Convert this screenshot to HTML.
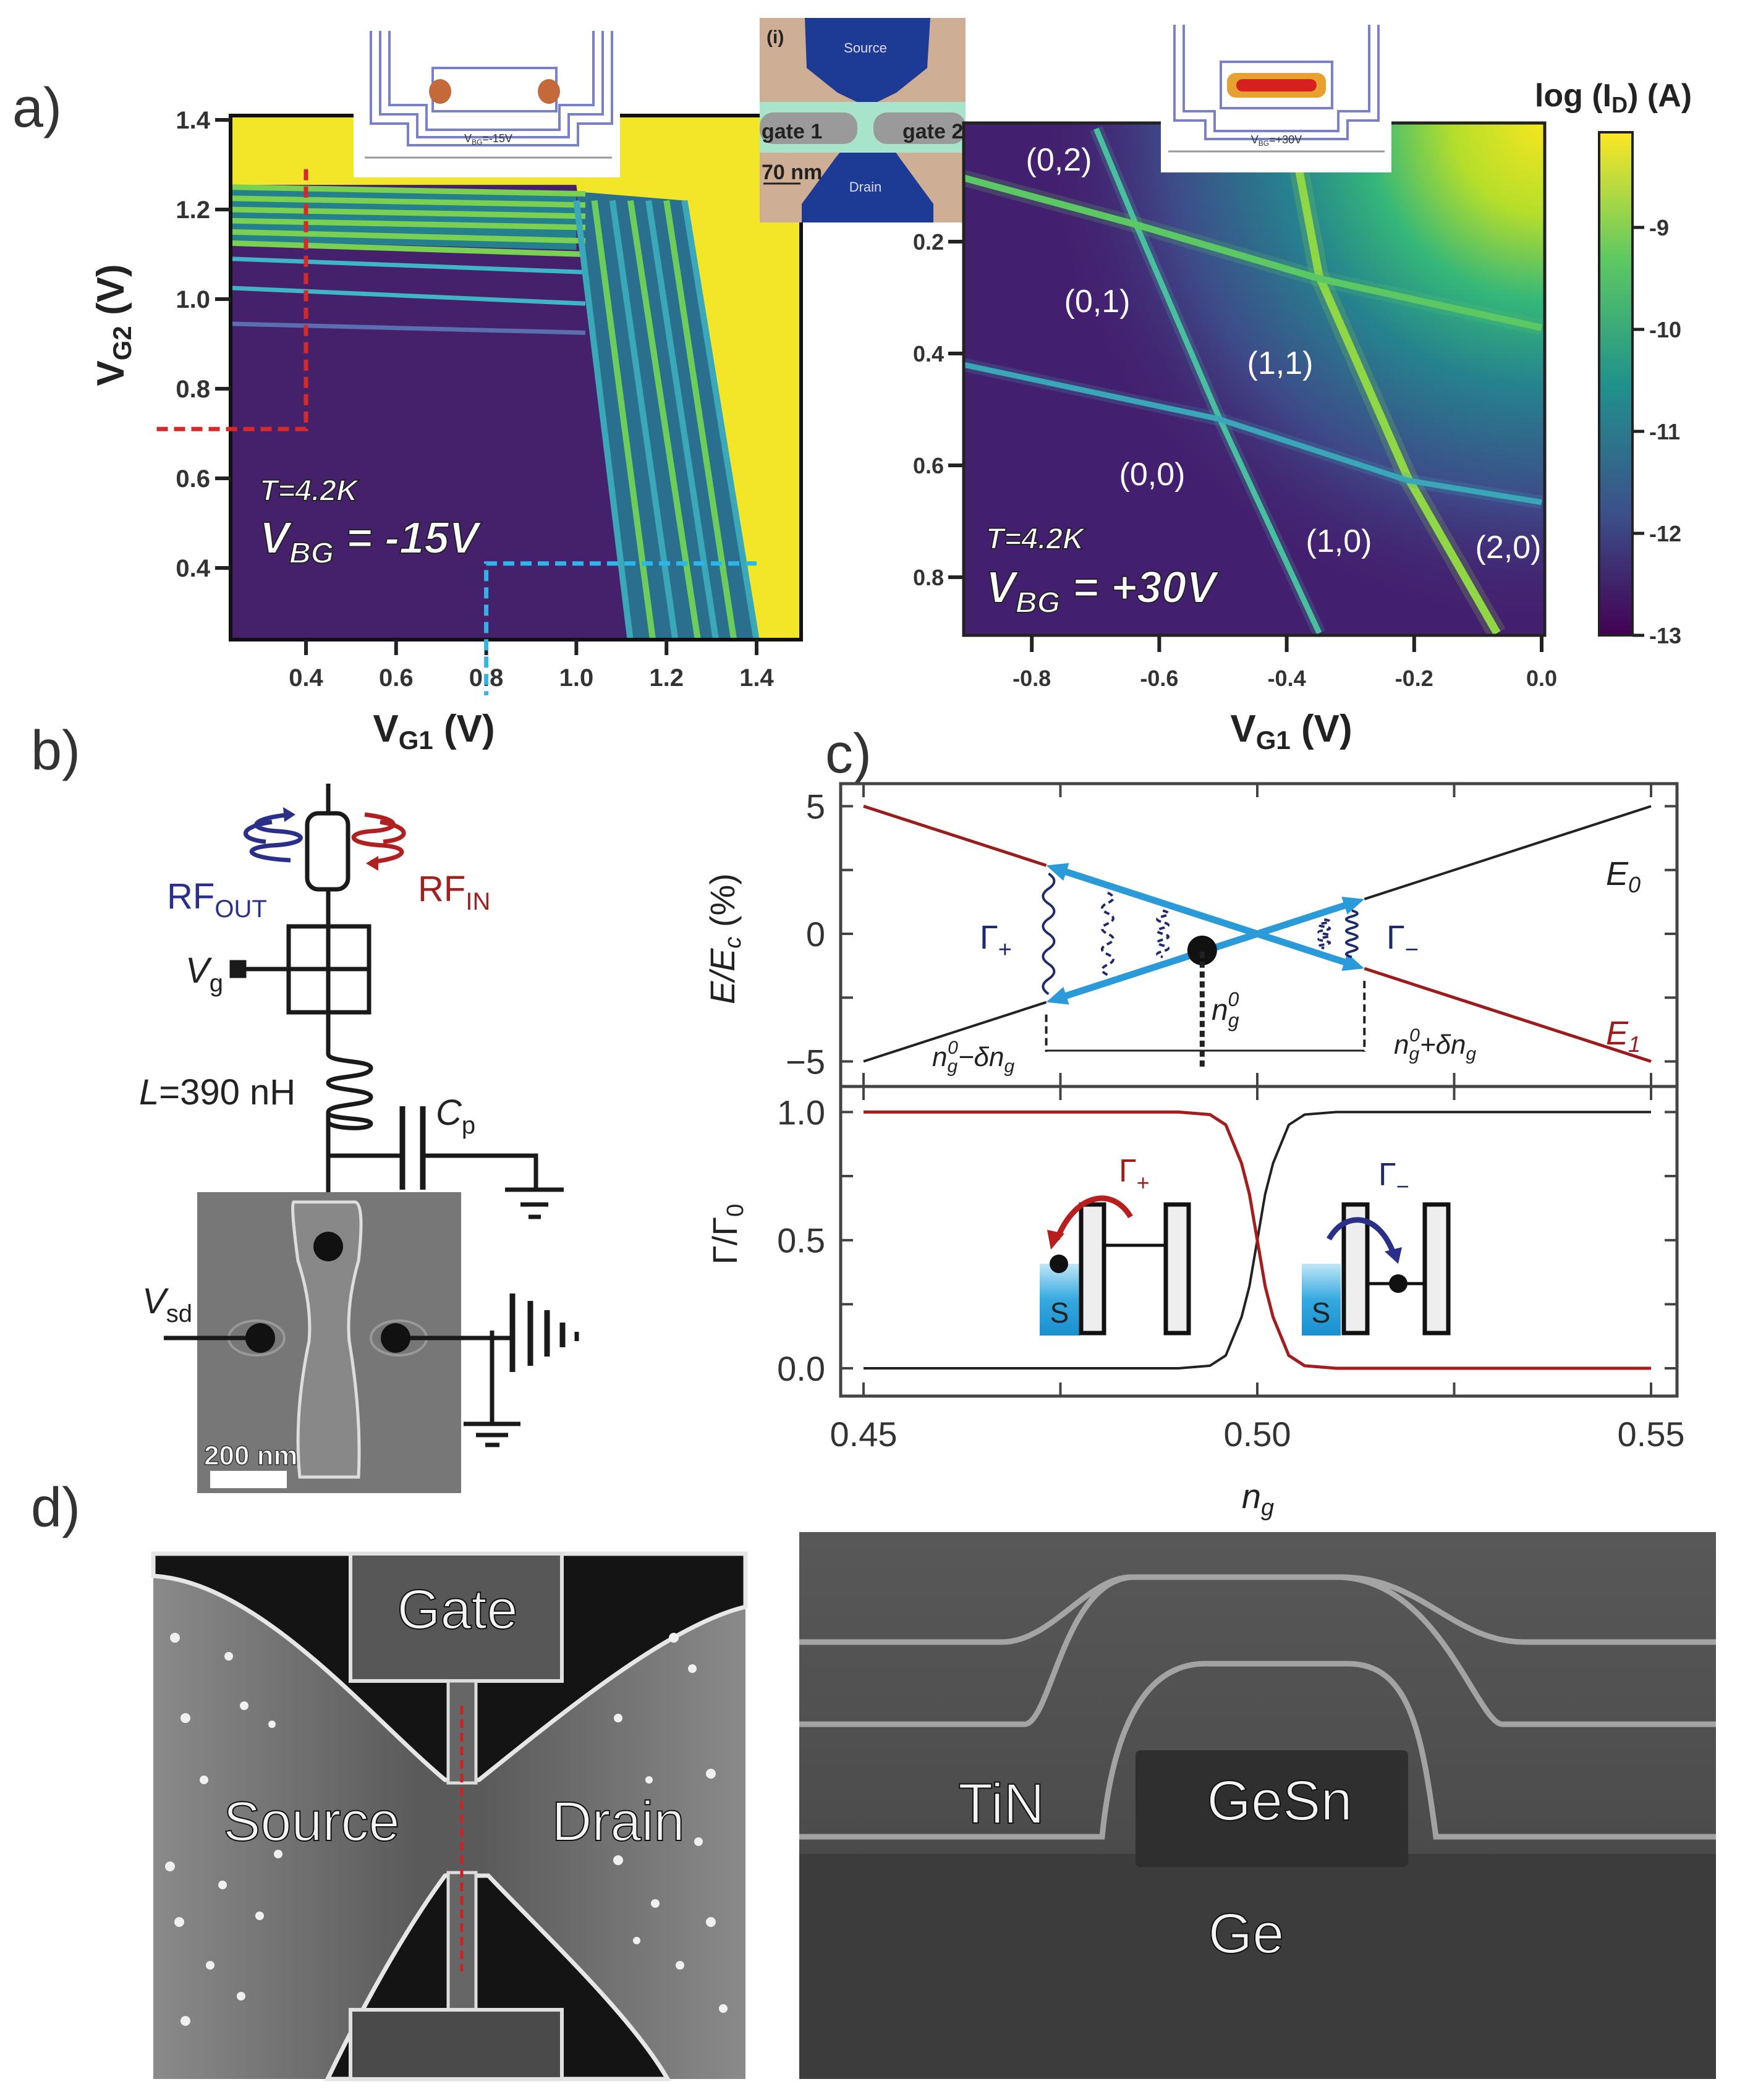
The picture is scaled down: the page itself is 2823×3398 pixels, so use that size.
<!DOCTYPE html>
<html><head><meta charset="utf-8"><title>Quantum dot device figure</title>
<style>
html,body{margin:0;padding:0;background:#fff;}
svg{display:block;}
text{font-family:"Liberation Sans",sans-serif;}
</style></head>
<body>
<svg id="fig" xmlns="http://www.w3.org/2000/svg" width="2823" height="3398" viewBox="0 0 2823 3398">
<defs>
  <linearGradient id="cbar" x1="0" y1="0" x2="0" y2="1">
    <stop offset="0" stop-color="#fde725"/><stop offset="0.25" stop-color="#5ec962"/>
    <stop offset="0.5" stop-color="#21918c"/><stop offset="0.75" stop-color="#3b528b"/>
    <stop offset="1" stop-color="#440154"/>
  </linearGradient>
  <radialGradient id="rglow" cx="2499" cy="199" r="820" gradientUnits="userSpaceOnUse">
    <stop offset="0" stop-color="#f6e620"/><stop offset="0.18" stop-color="#b5de2b"/>
    <stop offset="0.35" stop-color="#35b779"/><stop offset="0.52" stop-color="#26828e"/>
    <stop offset="0.75" stop-color="#3e4a89"/><stop offset="1" stop-color="#43206f" stop-opacity="0"/>
  </radialGradient>
  <linearGradient id="sblue" x1="0" y1="0" x2="0" y2="1">
    <stop offset="0" stop-color="#bfe6f7"/><stop offset="0.5" stop-color="#35a9df"/><stop offset="1" stop-color="#1a8fd0"/>
  </linearGradient>
  <linearGradient id="semR" x1="0" y1="0" x2="0" y2="1">
    <stop offset="0" stop-color="#585858"/><stop offset="0.55" stop-color="#4c4c4c"/><stop offset="1" stop-color="#3a3a3a"/>
  </linearGradient>
  <linearGradient id="semL" x1="0" y1="0" x2="1" y2="0">
    <stop offset="0" stop-color="#8a8a8a"/><stop offset="0.45" stop-color="#5a5a5a"/><stop offset="0.55" stop-color="#5a5a5a"/><stop offset="1" stop-color="#8a8a8a"/>
  </linearGradient>
  <clipPath id="clipL"><rect x="373" y="187" width="923" height="848"/></clipPath>
  <clipPath id="clipR"><rect x="1559" y="199" width="940" height="829"/></clipPath>
  <clipPath id="clipC"><rect x="1360" y="1268" width="1353" height="991"/></clipPath>
</defs>

<text x="20" y="205" font-size="90" fill="#333">a)</text>
<text x="50" y="1245" font-size="90" fill="#333">b)</text>
<text x="1335" y="1250" font-size="90" fill="#333">c)</text>
<text x="50" y="2470" font-size="90" fill="#333">d)</text>

<g id="heatL">
  <rect x="373" y="187" width="923" height="848" fill="#f3e628"/>
  <g id="heatLmarks" clip-path="url(#clipL)"></g>
  <rect x="373" y="187" width="923" height="848" fill="none" stroke="#111" stroke-width="6"/>
</g>
<g id="axL"></g>
<text transform="translate(200,526) rotate(-90)" text-anchor="middle" font-size="62" font-weight="bold" fill="#222">V<tspan font-size="42" dy="12">G2</tspan><tspan dy="-12"> (V)</tspan></text>
<text x="702" y="1200" text-anchor="middle" font-size="62" font-weight="bold" fill="#222">V<tspan font-size="42" dy="12">G1</tspan><tspan dy="-12"> (V)</tspan></text>
<text x="420" y="810" font-size="48" font-style="italic" font-weight="bold" fill="#fff" stroke="#222" stroke-width="2">T=4.2K</text>
<text x="420" y="895" font-size="72" font-style="italic" font-weight="bold" fill="#fff" stroke="#222" stroke-width="2">V<tspan font-size="48" dy="16">BG</tspan><tspan dy="-16"> = -15V</tspan></text>

<g>
  <rect x="572" y="32" width="431" height="255" fill="#fff"/>
  <path d="M600 50 V200 H660 V235 H935 V200 H990 V50" fill="none" stroke="#7a80c8" stroke-width="4"/>
  <path d="M615 50 V185 H675 V222 H920 V185 H975 V50" fill="none" stroke="#7a80c8" stroke-width="4"/>
  <path d="M630 50 V170 H690 V210 H905 V170 H960 V50" fill="none" stroke="#7a80c8" stroke-width="4"/>
  <rect x="700" y="110" width="200" height="70" fill="none" stroke="#7a80c8" stroke-width="4"/>
  <ellipse cx="712" cy="148" rx="18" ry="20" fill="#c46a3a"/>
  <ellipse cx="888" cy="148" rx="18" ry="20" fill="#c46a3a"/>
  <line x1="590" y1="255" x2="990" y2="255" stroke="#999" stroke-width="3"/>
  <text x="790" y="230" text-anchor="middle" font-size="18" fill="#333">V<tspan font-size="12" dy="4">BG</tspan><tspan dy="-4">=-15V</tspan></text>
</g>
<g>
  <rect x="1229" y="29" width="333" height="331" fill="#cfae96"/>
  <polygon points="1302,29 1505,29 1500,110 1450,150 1403,173 1355,150 1305,110" fill="#1d3a94"/>
  <polygon points="1370,233 1440,233 1455,255 1510,330 1510,360 1297,360 1297,330 1352,255" fill="#1d3a94"/>
  <rect x="1229" y="165" width="333" height="82" fill="#a8e4cc"/>
  <rect x="1229" y="182" width="158" height="51" rx="22" fill="#9a9a9a"/>
  <rect x="1413" y="182" width="149" height="51" rx="22" fill="#9a9a9a"/>
  <text x="1232" y="224" font-size="34" font-weight="bold" fill="#222">gate 1</text>
  <text x="1460" y="224" font-size="34" font-weight="bold" fill="#222">gate 2</text>
  <text x="1400" y="85" text-anchor="middle" font-size="22" fill="#dde">Source</text>
  <text x="1400" y="310" text-anchor="middle" font-size="22" fill="#dde">Drain</text>
  <text x="1232" y="290" font-size="34" font-weight="bold" fill="#222">70 nm</text>
  <line x1="1235" y1="297" x2="1295" y2="297" stroke="#222" stroke-width="3"/>
  <text x="1240" y="70" font-size="30" font-weight="bold" fill="#222">(i)</text>
</g>

<g id="heatR">
  <rect x="1559" y="199" width="940" height="829" fill="#43206f"/>
  <rect x="1559" y="199" width="940" height="829" fill="url(#rglow)"/>
  <g id="heatRmarks" clip-path="url(#clipR)"></g>
  <rect x="1559" y="199" width="940" height="829" fill="none" stroke="#222" stroke-width="5"/>
</g>
<g id="axR"></g>
<text x="2089" y="1200" text-anchor="middle" font-size="62" font-weight="bold" fill="#222">V<tspan font-size="42" dy="12">G1</tspan><tspan dy="-12"> (V)</tspan></text>
<text x="1595" y="888" font-size="48" font-style="italic" font-weight="bold" fill="#fff" stroke="#222" stroke-width="2">T=4.2K</text>
<text x="1595" y="975" font-size="72" font-style="italic" font-weight="bold" fill="#fff" stroke="#222" stroke-width="2">V<tspan font-size="48" dy="16">BG</tspan><tspan dy="-16"> = +30V</tspan></text>
<g font-size="52" fill="#fff" text-anchor="middle">
  <text x="1713" y="276">(0,2)</text>
  <text x="1775" y="505">(0,1)</text>
  <text x="2071" y="605">(1,1)</text>
  <text x="1864" y="785">(0,0)</text>
  <text x="2166" y="893">(1,0)</text>
  <text x="2440" y="903">(2,0)</text>
</g>
<g>
  <rect x="1878" y="32" width="373" height="247" fill="#fff"/>
  <path d="M1900 40 V195 H1950 V225 H2180 V195 H2230 V40" fill="none" stroke="#7a80c8" stroke-width="4"/>
  <path d="M1915 40 V180 H1965 V212 H2165 V180 H2215 V40" fill="none" stroke="#7a80c8" stroke-width="4"/>
  <rect x="1975" y="100" width="180" height="75" fill="none" stroke="#7a80c8" stroke-width="4"/>
  <rect x="1985" y="118" width="160" height="40" rx="14" fill="#e8a030"/>
  <rect x="2000" y="128" width="130" height="20" rx="10" fill="#d62020"/>
  <line x1="1890" y1="245" x2="2240" y2="245" stroke="#999" stroke-width="3"/>
  <text x="2065" y="232" text-anchor="middle" font-size="18" fill="#333">V<tspan font-size="12" dy="4">BG</tspan><tspan dy="-4">=+30V</tspan></text>
</g>
<g>
  <rect x="2587" y="214" width="54" height="814" fill="url(#cbar)" stroke="#222" stroke-width="4"/>
  <g id="cbTicks"></g>
  <text x="2610" y="172" text-anchor="middle" font-size="52" font-weight="bold" fill="#222">log (I<tspan font-size="36" dy="10">D</tspan><tspan dy="-10">) (A)</tspan></text>
</g>

<g stroke="#1a1a1a" fill="none" stroke-width="7">
  <line x1="531" y1="1268" x2="531" y2="1316"/>
  <rect x="497" y="1316" width="66" height="123" rx="18"/>
  <line x1="531" y1="1439" x2="531" y2="1499"/>
  <rect x="467" y="1499" width="130" height="139"/>
  <line x1="531" y1="1499" x2="531" y2="1638"/>
  <line x1="390" y1="1568" x2="597" y2="1568"/>
  <rect x="375" y="1557" width="20" height="22" fill="#1a1a1a"/>
  <path d="M531 1638 V1705 C531 1720 600 1715 600 1728 C600 1745 531 1740 531 1752 C531 1765 600 1762 600 1775 C600 1790 531 1785 531 1800 C531 1812 600 1808 600 1818 C600 1830 531 1826 531 1815"/>
  <line x1="531" y1="1800" x2="531" y2="2017"/>
  <line x1="531" y1="1870" x2="651" y2="1870"/>
  <line x1="651" y1="1790" x2="651" y2="1925" stroke-width="9"/>
  <line x1="684" y1="1790" x2="684" y2="1925" stroke-width="9"/>
  <path d="M684 1870 H867 V1925"/>
  <line x1="817" y1="1925" x2="912" y2="1925"/>
  <line x1="842" y1="1949" x2="887" y2="1949"/>
  <line x1="855" y1="1969" x2="875" y2="1969"/>
</g>
<g>
  <rect x="319" y="1929" width="427" height="487" fill="#777"/>
  <path d="M475 1945 H575 Q590 1950 580 2040 Q560 2110 565 2170 Q585 2290 580 2390 H485 Q475 2290 500 2170 Q505 2110 482 2040 Q470 1950 475 1945 Z" fill="#888" stroke="#ddd" stroke-width="5"/>
  <ellipse cx="415" cy="2165" rx="45" ry="28" fill="none" stroke="#999" stroke-width="4"/>
  <ellipse cx="645" cy="2165" rx="45" ry="28" fill="none" stroke="#999" stroke-width="4"/>
  <g stroke="#1a1a1a" stroke-width="7" fill="none">
    <line x1="265" y1="2165" x2="421" y2="2165"/>
    <line x1="640" y1="2165" x2="829" y2="2165"/>
    <line x1="796" y1="2153" x2="796" y2="2304"/>
    <line x1="750" y1="2304" x2="842" y2="2304"/>
    <line x1="770" y1="2322" x2="822" y2="2322"/>
    <line x1="785" y1="2338" x2="808" y2="2338"/>
    <line x1="829" y1="2093" x2="829" y2="2220" stroke-width="9"/>
    <line x1="858" y1="2105" x2="858" y2="2210" stroke-width="9"/>
    <line x1="885" y1="2120" x2="885" y2="2195" stroke-width="9"/>
    <line x1="910" y1="2140" x2="910" y2="2180" stroke-width="9"/>
    <line x1="933" y1="2155" x2="933" y2="2170" stroke-width="7"/>
  </g>
  <circle cx="531" cy="2017" r="24" fill="#111"/>
  <circle cx="421" cy="2165" r="24" fill="#111"/>
  <circle cx="640" cy="2165" r="24" fill="#111"/>
  <text x="330" y="2370" font-size="44" font-weight="bold" fill="#fff" stroke="#333" stroke-width="1.5">200 nm</text>
  <rect x="340" y="2380" width="124" height="28" fill="#fff"/>
</g>
<g font-size="58" fill="#222">
  <text x="270" y="1470" fill="#2a2f8a">RF<tspan font-size="40" dy="14">OUT</tspan></text>
  <text x="676" y="1458" fill="#a02020">RF<tspan font-size="40" dy="14">IN</tspan></text>
  <text x="300" y="1590" font-style="italic">V<tspan font-size="40" dy="14" font-style="normal">g</tspan></text>
  <text x="225" y="1787"><tspan font-style="italic">L</tspan>=390 nH</text>
  <text x="705" y="1820" font-style="italic">C<tspan font-size="40" dy="14" font-style="normal">p</tspan></text>
  <text x="230" y="2125" font-style="italic">V<tspan font-size="40" dy="14" font-style="normal">sd</tspan></text>
</g>
<g fill="none" stroke-width="7">
  <path d="M470 1318 C400 1325 400 1342 450 1345 C500 1348 500 1365 440 1368 C390 1372 395 1388 470 1392" stroke="#2a2f8a"/>
  <path d="M440 1330 C385 1338 385 1358 430 1362" stroke="#2a2f8a"/>
  <polygon points="478,1318 458,1306 460,1330" fill="#2a2f8a" stroke="none"/>
  <path d="M590 1318 C650 1325 650 1342 600 1345 C560 1348 560 1365 620 1368 C665 1372 660 1388 600 1395" stroke="#b02020"/>
  <path d="M615 1330 C665 1338 665 1358 620 1362" stroke="#b02020"/>
  <polygon points="592,1397 612,1385 612,1409" fill="#b02020" stroke="none"/>
</g>

<g id="chartC">
  <rect x="1360" y="1268" width="1353" height="991" fill="#fff" stroke="#444" stroke-width="5"/>
  <line x1="1360" y1="1758" x2="2713" y2="1758" stroke="#444" stroke-width="5"/>
  <g id="cMarks" clip-path="url(#clipC)"></g>
  <g id="cAxes"></g>
</g>
<text transform="translate(1188,1519) rotate(-90)" text-anchor="middle" font-size="56" font-style="italic" fill="#222">E/E<tspan font-size="38" dy="10">c</tspan><tspan dy="-10" font-style="normal"> (%)</tspan></text>
<text transform="translate(1192,1997) rotate(-90)" text-anchor="middle" font-size="56" fill="#222" font-family="Liberation Serif, serif">Γ/Γ<tspan font-size="38" dy="10">0</tspan></text>
<text x="2035" y="2440" text-anchor="middle" font-size="56" font-style="italic" fill="#222">n<tspan font-size="38" dy="12">g</tspan></text>

<g>
  <rect x="248" y="2514" width="958" height="850" fill="url(#semL)"/>
  <path d="M248 2514 H1206 V2600 C1080 2630 900 2780 775 2880 H720 C600 2780 420 2560 248 2550 Z" fill="#141414" stroke="#e6e6e6" stroke-width="7"/>
  <path d="M720 3035 C650 3130 580 3260 530 3364 H1080 C1020 3260 880 3130 790 3035 Z" fill="#141414" stroke="#e6e6e6" stroke-width="7"/>
  <rect x="567" y="2514" width="342" height="206" fill="#575757" stroke="#e0e0e0" stroke-width="6"/>
  <rect x="725" y="2720" width="45" height="165" fill="#666" stroke="#ddd" stroke-width="5"/>
  <rect x="725" y="3030" width="45" height="222" fill="#666" stroke="#ddd" stroke-width="5"/>
  <rect x="567" y="3252" width="342" height="112" fill="#4a4a4a" stroke="#e0e0e0" stroke-width="6"/>
  <line x1="747" y1="2760" x2="747" y2="3190" stroke="#d02020" stroke-width="5" stroke-dasharray="14 8"/>
  <g fill="#f0f0f0">
    <circle cx="283" cy="2650" r="8"/><circle cx="370" cy="2680" r="7"/><circle cx="395" cy="2760" r="7"/><circle cx="300" cy="2780" r="8"/>
    <circle cx="440" cy="2790" r="6"/><circle cx="330" cy="2880" r="7"/><circle cx="450" cy="3000" r="7"/><circle cx="275" cy="3020" r="8"/>
    <circle cx="360" cy="3050" r="7"/><circle cx="290" cy="3110" r="8"/><circle cx="420" cy="3100" r="7"/><circle cx="340" cy="3180" r="7"/>
    <circle cx="300" cy="3270" r="8"/><circle cx="390" cy="3230" r="7"/><circle cx="1090" cy="2650" r="8"/><circle cx="1120" cy="2700" r="7"/>
    <circle cx="1000" cy="2780" r="7"/><circle cx="1150" cy="2870" r="8"/><circle cx="1050" cy="2880" r="6"/><circle cx="1130" cy="2980" r="7"/>
    <circle cx="1000" cy="3010" r="8"/><circle cx="1060" cy="3080" r="7"/><circle cx="1150" cy="3110" r="8"/><circle cx="1100" cy="3180" r="7"/>
    <circle cx="1170" cy="3250" r="7"/><circle cx="1030" cy="3140" r="6"/>
  </g>
  <g font-size="90" fill="#f4f4f4" stroke="#111" stroke-width="2" text-anchor="middle">
    <text x="740" y="2635">Gate</text>
    <text x="504" y="2978">Source</text>
    <text x="1000" y="2978">Drain</text>
  </g>
</g>
<g>
  <rect x="1293" y="2479" width="1483" height="885" fill="url(#semR)"/>
  <rect x="1293" y="3000" width="1483" height="364" fill="#3c3c3c"/>
  <g fill="none" stroke="#b8b8b8" stroke-width="9" opacity="0.8">
    <path d="M1293 2657 H1621 C1700 2657 1760 2552 1830 2552 H2170 C2300 2552 2350 2657 2467 2657 H2776"/>
    <path d="M1293 2790 H1657 C1700 2790 1720 2560 1830 2552 M2170 2552 C2330 2560 2390 2790 2431 2790 H2776"/>
    <path d="M1293 2972 H1783 C1800 2800 1850 2692 1950 2692 H2180 C2280 2692 2300 2800 2323 2972 H2776"/>
  </g>
  <rect x="1837" y="2832" width="441" height="189" fill="#2f2f2f" rx="8"/>
  <g font-size="92" fill="#f4f4f4" stroke="#111" stroke-width="2" text-anchor="middle">
    <text x="1620" y="2950">TiN</text>
    <text x="2070" y="2945">GeSn</text>
    <text x="2016" y="3160">Ge</text>
  </g>
</g>

<script>
const lXTicks = [0.4, 0.6, 0.8, 1.0, 1.2, 1.4];
const lYTicks = [1.4, 1.2, 1.0, 0.8, 0.6, 0.4];
const lHLineStart = [1.25, 1.225, 1.2, 1.175, 1.15, 1.125, 1.09, 1.025, 0.945];
const lHLineEnd = [1.235, 1.21, 1.185, 1.16, 1.13, 1.1, 1.06, 0.99, 0.925];
const lSlantTop = [1.0, 1.04, 1.08, 1.12, 1.16, 1.2, 1.24];
const lSlantBottom = [1.12, 1.17, 1.22, 1.27, 1.31, 1.35, 1.4];
const rXTicks = [-0.8, -0.6, -0.4, -0.2, 0.0];
const rYTicks = [0.2, 0.4, 0.6, 0.8];
const steepA_x = [-0.699, -0.638, -0.507, -0.349];
const steepA_y = [-0.002, 0.165, 0.512, 0.9];
const steepB_x = [-0.393, -0.349, -0.21, -0.07];
const steepB_y = [-0.002, 0.262, 0.622, 0.9];
const shallow1_x = [-0.907, -0.638, -0.349, 0.0];
const shallow1_y = [0.086, 0.169, 0.266, 0.354];
const shallow2_x = [-0.907, -0.507, -0.21, 0.0];
const shallow2_y = [0.42, 0.517, 0.627, 0.666];
const cbTicks = [-9, -10, -11, -12, -13];
const cXTicks = [0.45, 0.50, 0.55];
const cYTopTicks = [5, 0, -5];
const cYBotTicks = [1.0, 0.5, 0.0];
const energyNg = [0.45, 0.55];
const energyE0 = [-5, 5];
const energyE1 = [5, -5];
const ngLeft = 0.4732, ngRight = 0.5136, ngDot = 0.493;
const rateNg = [0.45, 0.49, 0.494, 0.496, 0.498, 0.499, 0.5, 0.501, 0.502, 0.504, 0.506, 0.51, 0.55];
const rateRed = [1, 1, 0.99, 0.95, 0.8, 0.68, 0.5, 0.32, 0.2, 0.05, 0.01, 0, 0];

const NS = "http://www.w3.org/2000/svg";
function mk(tag, attrs, parent) {
  const e = document.createElementNS(NS, tag);
  for (const k in attrs) e.setAttribute(k, attrs[k]);
  parent.appendChild(e); return e;
}
const lx = v => 495 + (v - 0.4) * 729;
const ly = v => 194 + (1.4 - v) * 725;
const rx = v => 2494 + v * 1031;
const ry = v => 391 + (v - 0.2) * 905;
const cbY = v => 368 + (-9 - v) * 165;
const cx = v => 1397 + (v - 0.45) * 12740;
const cyT = v => 1511 - v * 41.3;
const cyB = v => 2214 - v * 414.6;

const gL = document.getElementById('heatLmarks');
const xMin = 0.233, yMin = 0.237;
let p = mk('polygon', {points: `${lx(xMin)},${ly(yMin)} ${lx(lSlantBottom[0])},${ly(yMin)} ${lx(lSlantTop[0])},${ly(1.255)} ${lx(xMin)},${ly(1.255)}`, fill: '#45216c'}, gL);


p = mk('polygon', {points: `${lx(lSlantTop[0])},${ly(1.24)} ${lx(lSlantTop[lSlantTop.length-1])},${ly(1.22)} ${lx(lSlantBottom[lSlantBottom.length-1])},${ly(yMin)} ${lx(lSlantBottom[0])},${ly(yMin)}`, fill: '#2a6f8e'}, gL);


p = mk('polygon', {points: `${lx(xMin)},${ly(1.255)} ${lx(1.0)},${ly(1.235)} ${lx(1.0)},${ly(1.11)} ${lx(xMin)},${ly(1.13)}`, fill: '#24808c'}, gL);


lHLineStart.forEach((v, i) => {
  const col = i < 6 ? '#7ad151' : (i < 8 ? '#3fb6c8' : '#5a6fb0');
  const l = mk('line', {x1: lx(xMin), y1: ly(v), x2: lx(1.02), y2: ly(lHLineEnd[i]), stroke: col, 'stroke-width': i < 6 ? 9 : 7}, gL);
  
  
});
lSlantTop.forEach((v, i) => {
  const col = i % 2 ? '#6ccd5a' : '#3aa8b8';
  const l = mk('line', {x1: lx(v), y1: ly(1.22), x2: lx(lSlantBottom[i]), y2: ly(yMin), stroke: col, 'stroke-width': 10}, gL);
  
  
});
let dl = mk('path', {d: `M${lx(0.4)} ${ly(1.29)} V${ly(0.71)} H250`, fill: 'none', stroke: '#d42a2a', 'stroke-width': 7, 'stroke-dasharray': '18 10'}, document.getElementById('fig'));


dl = mk('path', {d: `M${lx(1.4)} ${ly(0.41)} H${lx(0.8)} V1125`, fill: 'none', stroke: '#2fb6e8', 'stroke-width': 7, 'stroke-dasharray': '18 10'}, document.getElementById('fig'));



const axL = document.getElementById('axL');
lXTicks.forEach(v => {
  const t = mk('line', {x1: lx(v), y1: 1035, x2: lx(v), y2: 1060, stroke: '#222', 'stroke-width': 6}, axL);
  
  
  const tx = mk('text', {x: lx(v), y: 1110, 'text-anchor': 'middle', 'font-size': 40, 'font-weight': 'bold', fill: '#333'}, axL);
  tx.textContent = v.toFixed(1);
  
  
});
lYTicks.forEach(v => {
  const t = mk('line', {x1: 348, y1: ly(v), x2: 373, y2: ly(v), stroke: '#222', 'stroke-width': 6}, axL);
  
  
  const tx = mk('text', {x: 340, y: ly(v) + 14, 'text-anchor': 'end', 'font-size': 40, 'font-weight': 'bold', fill: '#333'}, axL);
  tx.textContent = v.toFixed(1);
  
  
});

const gR = document.getElementById('heatRmarks');
function polyline(xs, ys, col, w, name) {
  const pts = xs.map((x, i) => rx(x) + ',' + ry(ys[i])).join(' ');
  const glow = mk('polyline', {points: pts, fill: 'none', stroke: col, 'stroke-width': w * 2.4, opacity: 0.2, 'stroke-linejoin': 'round'}, gR);
  
  
  const l = mk('polyline', {points: pts, fill: 'none', stroke: col, 'stroke-width': w, 'stroke-linejoin': 'round'}, gR);
  
  
}
polyline(steepA_x, steepA_y, '#48c0a0', 9, 'steep-transition-a');
polyline(steepB_x, steepB_y, '#8fd744', 13, 'steep-transition-b');
polyline(shallow1_x, shallow1_y, '#5cc863', 11, 'shallow-transition-1');
polyline(shallow2_x, shallow2_y, '#3aa7b8', 9, 'shallow-transition-2');

const axR = document.getElementById('axR');
rXTicks.forEach(v => {
  const t = mk('line', {x1: rx(v), y1: 1028, x2: rx(v), y2: 1055, stroke: '#222', 'stroke-width': 6}, axR);
  
  
  const tx = mk('text', {x: rx(v), y: 1110, 'text-anchor': 'middle', 'font-size': 36, 'font-weight': 'bold', fill: '#333'}, axR);
  tx.textContent = v.toFixed(1);
  
  
});
rYTicks.forEach(v => {
  const t = mk('line', {x1: 1534, y1: ry(v), x2: 1559, y2: ry(v), stroke: '#222', 'stroke-width': 6}, axR);
  
  
  const tx = mk('text', {x: 1527, y: ry(v) + 13, 'text-anchor': 'end', 'font-size': 36, 'font-weight': 'bold', fill: '#333'}, axR);
  tx.textContent = v.toFixed(1);
  
  
});
const cbG = document.getElementById('cbTicks');
cbTicks.forEach(v => {
  const t = mk('line', {x1: 2641, y1: cbY(v), x2: 2660, y2: cbY(v), stroke: '#222', 'stroke-width': 5}, cbG);
  
  
  const tx = mk('text', {x: 2668, y: cbY(v) + 13, 'font-size': 36, 'font-weight': 'bold', fill: '#333'}, cbG);
  tx.textContent = String(v);
  
  
});

const gC = document.getElementById('cMarks');
const gCA = document.getElementById('cAxes');
function seg(x1, y1, x2, y2, col, w, name, extra) {
  const l = mk('line', Object.assign({x1, y1, x2, y2, stroke: col, 'stroke-width': w}, extra || {}), gC);
  
  
  return l;
}
const lerp = (arrX, arrY, x) => arrY[0] + (arrY[1] - arrY[0]) * (x - arrX[0]) / (arrX[1] - arrX[0]);
seg(cx(energyNg[0]), cyT(energyE0[0]), cx(ngLeft), cyT(lerp(energyNg, energyE0, ngLeft)), '#222', 4, 'e0-line-left');
seg(cx(ngRight), cyT(lerp(energyNg, energyE0, ngRight)), cx(energyNg[1]), cyT(energyE0[1]), '#222', 4, 'e0-line-right');
seg(cx(energyNg[0]), cyT(energyE1[0]), cx(ngLeft), cyT(lerp(energyNg, energyE1, ngLeft)), '#9b1c1c', 5, 'e1-line-left');
seg(cx(ngRight), cyT(lerp(energyNg, energyE1, ngRight)), cx(energyNg[1]), cyT(energyE1[1]), '#9b1c1c', 5, 'e1-line-right');
[energyE0, energyE1].forEach((arr, k) => {
  const x1 = cx(ngLeft), y1 = cyT(lerp(energyNg, arr, ngLeft));
  const x2 = cx(ngRight), y2 = cyT(lerp(energyNg, arr, ngRight));
  seg(x1 + 15, y1 + (y2 - y1) * 15 / (x2 - x1), x2 - 15, y2 - (y2 - y1) * 15 / (x2 - x1), '#2a9ad8', 11, 'blue-sweep-arrow');
  [[x1, y1, x2, y2], [x2, y2, x1, y1]].forEach(([ax, ay, bx, by]) => {
    const ang = Math.atan2(ay - by, ax - bx);
    const L = 34, W = 15;
    const px = ax - L * Math.cos(ang), py = ay - L * Math.sin(ang);
    const h = mk('polygon', {points: `${ax},${ay} ${px - W * Math.sin(ang)},${py + W * Math.cos(ang)} ${px + W * Math.sin(ang)},${py - W * Math.cos(ang)}`, fill: '#2a9ad8'}, gC);
    
    
  });
});
function wavy(ng, solid, name) {
  const yt = cyT(lerp(energyNg, energyE1, ng)), yb = cyT(lerp(energyNg, energyE0, ng));
  const top = Math.min(yt, yb) + 12, bot = Math.max(yt, yb) - 12;
  const x = cx(ng); let d = `M${x} ${top}`; const n = 8; const step = (bot - top) / n;
  for (let i = 0; i < n; i++) d += ` Q${x + (i % 2 ? -18 : 18)} ${top + step * (i + 0.5)} ${x} ${top + step * (i + 1)}`;
  const w = mk('path', {d, fill: 'none', stroke: '#1f2a6e', 'stroke-width': 4, 'stroke-dasharray': solid ? 'none' : '9 6'}, gC);
  
  
}
wavy(ngLeft + 0.0003, true, 'gamma-plus-wave');
wavy(0.481, false, 'gamma-plus-wave-dashed');
wavy(0.488, false, 'gamma-plus-wave-dashed-2');
wavy(0.5085, false, 'gamma-minus-wave-dashed');
wavy(0.512, true, 'gamma-minus-wave');
const dot = mk('circle', {cx: cx(ngDot), cy: cyT(lerp(energyNg, energyE0, ngDot)) - 2, r: 24, fill: '#111'}, gC);


seg(cx(ngDot), cyT(lerp(energyNg, energyE0, ngDot)), cx(ngDot), 1728, '#222', 8, 'ng0-guide', {'stroke-dasharray': '10 6'});
seg(cx(ngLeft), cyT(lerp(energyNg, energyE0, ngLeft)) + 20, cx(ngLeft), 1702, '#222', 4, 'left-guide', {'stroke-dasharray': '12 7'});
seg(cx(ngRight), cyT(lerp(energyNg, energyE1, ngRight)) + 20, cx(ngRight), 1702, '#222', 4, 'right-guide', {'stroke-dasharray': '12 7'});
seg(cx(ngLeft), 1700, cx(ngRight), 1700, '#222', 3, 'span-arrow');
const ptsRed = rateNg.map((n, i) => cx(n) + ',' + cyB(rateRed[i])).join(' ');
const ptsBlk = rateNg.map((n, i) => cx(n) + ',' + cyB(1 - rateRed[i])).join(' ');
let pl = mk('polyline', {points: ptsBlk, fill: 'none', stroke: '#222', 'stroke-width': 4, 'stroke-linejoin': 'round'}, gC);


pl = mk('polyline', {points: ptsRed, fill: 'none', stroke: '#a51c1c', 'stroke-width': 5, 'stroke-linejoin': 'round'}, gC);


const majorX = [0.45, 0.475, 0.5, 0.525, 0.55];
majorX.forEach(v => {
  [[1268, 1290], [1736, 1780], [2237, 2259]].forEach(([a, b]) => {
    const t = mk('line', {x1: cx(v), y1: a, x2: cx(v), y2: b, stroke: '#444', 'stroke-width': 4}, gCA);
    
    
  });
});
cXTicks.forEach(v => {
  const tx = mk('text', {x: cx(v), y: 2340, 'text-anchor': 'middle', 'font-size': 56, fill: '#333'}, gCA);
  tx.textContent = v.toFixed(2);
  
  
});
[5, 2.5, 0, -2.5, -5].forEach(v => {
  [[1360, 1380], [2693, 2713]].forEach(([a, b]) => {
    const t = mk('line', {x1: a, y1: cyT(v), x2: b, y2: cyT(v), stroke: '#444', 'stroke-width': 4}, gCA);
    
    
  });
});
cYTopTicks.forEach(v => {
  const tx = mk('text', {x: 1335, y: cyT(v) + 20, 'text-anchor': 'end', 'font-size': 56, fill: '#333'}, gCA);
  tx.textContent = v < 0 ? '\u2212' + Math.abs(v) : String(v);
  
  
});
[1, 0.75, 0.5, 0.25, 0].forEach(v => {
  [[1360, 1380], [2693, 2713]].forEach(([a, b]) => {
    const t = mk('line', {x1: a, y1: cyB(v), x2: b, y2: cyB(v), stroke: '#444', 'stroke-width': 4}, gCA);
    
    
  });
});
cYBotTicks.forEach(v => {
  const tx = mk('text', {x: 1335, y: cyB(v) + 20, 'text-anchor': 'end', 'font-size': 56, fill: '#333'}, gCA);
  tx.textContent = v.toFixed(1);
  
  
});
</script>

<g font-size="54" fill="#222">
  <text x="2598" y="1432" font-style="italic">E<tspan font-size="36" dy="12">0</tspan></text>
  <text x="2598" y="1690" font-style="italic" fill="#a01c1c">E<tspan font-size="36" dy="12">1</tspan></text>
  <text x="1585" y="1535" fill="#1f2a6e" font-family="Liberation Serif, serif">Γ<tspan font-size="38" dy="14">+</tspan></text>
  <text x="2243" y="1535" fill="#1f2a6e" font-family="Liberation Serif, serif">Γ<tspan font-size="38" dy="14">−</tspan></text>
  <text x="1960" y="1650" font-style="italic" font-size="48">n<tspan font-size="32" dy="12">g</tspan><tspan font-size="32" dx="-18" dy="-34">0</tspan></text>
  <text x="1508" y="1725" font-style="italic" font-size="44">n<tspan font-size="30" dy="10">g</tspan><tspan font-size="30" dx="-16" dy="-30">0</tspan><tspan dy="20">−δn</tspan><tspan font-size="30" dy="10">g</tspan></text>
  <text x="2255" y="1705" font-style="italic" font-size="44">n<tspan font-size="30" dy="10">g</tspan><tspan font-size="30" dx="-16" dy="-30">0</tspan><tspan dy="20">+δn</tspan><tspan font-size="30" dy="10">g</tspan></text>
</g>
<g>
  <rect x="1682" y="2045" width="65" height="116" fill="url(#sblue)"/>
  <text x="1714" y="2140" text-anchor="middle" font-size="46" fill="#222">S</text>
  <rect x="1749" y="1949" width="37" height="208" fill="#eee" stroke="#111" stroke-width="7"/>
  <rect x="1886" y="1949" width="37" height="208" fill="#eee" stroke="#111" stroke-width="7"/>
  <line x1="1786" y1="2015" x2="1886" y2="2015" stroke="#111" stroke-width="5"/>
  <circle cx="1713" cy="2045" r="15" fill="#111"/>
  <path d="M1829 1969 C1800 1920 1740 1930 1710 2005" fill="none" stroke="#b81e1e" stroke-width="9"/>
  <polygon points="1700,2022 1694,1990 1722,1996" fill="#b81e1e"/>
  <text x="1810" y="1912" font-size="52" fill="#a01c1c" font-family="Liberation Serif, serif">Γ<tspan font-size="36" dy="14">+</tspan></text>
</g>
<g>
  <rect x="2106" y="2045" width="63" height="116" fill="url(#sblue)"/>
  <text x="2137" y="2140" text-anchor="middle" font-size="46" fill="#222">S</text>
  <rect x="2174" y="1949" width="38" height="208" fill="#eee" stroke="#111" stroke-width="7"/>
  <rect x="2305" y="1949" width="38" height="208" fill="#eee" stroke="#111" stroke-width="7"/>
  <line x1="2212" y1="2077" x2="2305" y2="2077" stroke="#111" stroke-width="5"/>
  <circle cx="2262" cy="2077" r="15" fill="#111"/>
  <path d="M2150 2005 C2175 1960 2230 1960 2255 2030" fill="none" stroke="#2a2f8a" stroke-width="9"/>
  <polygon points="2262,2045 2240,2025 2268,2018" fill="#2a2f8a"/>
  <text x="2230" y="1918" font-size="52" fill="#1f2a6e" font-family="Liberation Serif, serif">Γ<tspan font-size="36" dy="14">−</tspan></text>
</g>
</svg>
</body></html>
